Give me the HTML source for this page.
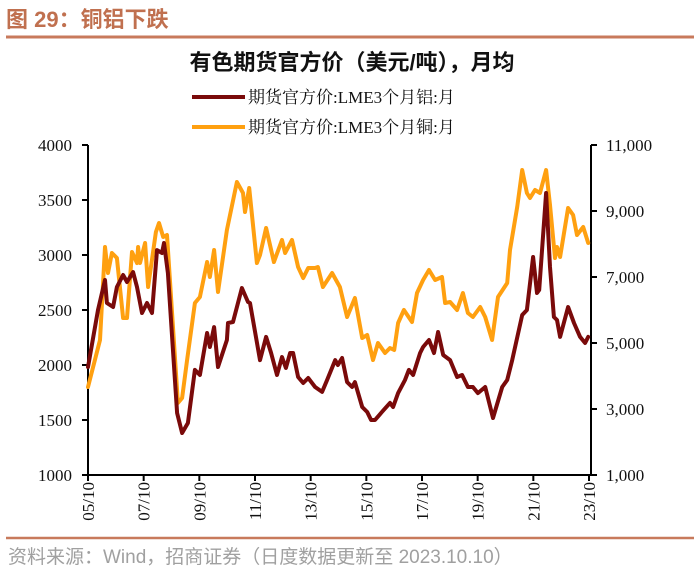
<!DOCTYPE html>
<html><head><meta charset="utf-8">
<style>
body{margin:0;background:#fff;width:700px;height:580px;overflow:hidden;font-family:"Liberation Sans","Noto Sans CJK SC",sans-serif;}
svg{display:block}
</style></head>
<body>
<svg id="chart" width="700" height="580" xmlns="http://www.w3.org/2000/svg">
  <text x="6" y="27" font-size="22" font-weight="bold" fill="#c0704f" font-family="'Liberation Sans','Noto Sans CJK SC',sans-serif">图 29：铜铝下跌</text>
  <line x1="6" y1="37" x2="694" y2="37" stroke="#c87a5c" stroke-width="3"/>
  <text x="352" y="70" text-anchor="middle" font-size="22" font-weight="bold" fill="#111" font-family="'Liberation Sans','Noto Sans CJK SC',sans-serif">有色期货官方价（美元/吨），月均</text>
  <g>
    <g>
      <line x1="192" y1="97" x2="245" y2="97" stroke="#7a0a0a" stroke-width="4"/>
      <text x="248" y="103" font-size="17" fill="#111" font-family="'Liberation Serif','Noto Serif CJK SC',serif">期货官方价:LME3个月铝:月</text>
    </g>
    <g>
      <line x1="192" y1="127" x2="245" y2="127" stroke="#ffa010" stroke-width="4"/>
      <text x="248" y="133" font-size="17" fill="#111" font-family="'Liberation Serif','Noto Serif CJK SC',serif">期货官方价:LME3个月铜:月</text>
    </g>
  </g>
  <g id="axes"></g>
  <g id="series"></g>
  <line x1="6" y1="538" x2="694" y2="538" stroke="#c87a5c" stroke-width="2.5"/>
  <text x="8" y="563" font-size="19" fill="#a0a0a0" font-family="'Liberation Sans','Noto Sans CJK SC',sans-serif">资料来源：Wind，招商证券（日度数据更新至 2023.10.10）</text>
</svg>
<script>
const leftTicks=[1000,1500,2000,2500,3000,3500,4000];
const rightTicks=[1000,3000,5000,7000,9000,11000];
const rightTickLabels=["1,000","3,000","5,000","7,000","9,000","11,000"];
const xTicks=[2005.75,2007.75,2009.75,2011.75,2013.75,2015.75,2017.75,2019.75,2021.75,2023.75];
const xTickLabels=["05/10","07/10","09/10","11/10","13/10","15/10","17/10","19/10","21/10","23/10"];

const alDates=[2005.75,2006.11,2006.36,2006.43,2006.65,2006.79,2007.01,2007.15,2007.37,2007.51,2007.69,2007.87,2008.05,2008.23,2008.41,2008.48,2008.62,2008.95,2009.13,2009.34,2009.59,2009.77,2010.03,2010.13,2010.28,2010.42,2010.74,2010.78,2010.96,2011.28,2011.50,2011.57,2011.93,2012.15,2012.33,2012.54,2012.72,2012.86,2013.01,2013.12,2013.30,2013.48,2013.66,2013.91,2014.16,2014.34,2014.63,2014.73,2014.88,2015.06,2015.24,2015.34,2015.60,2015.78,2015.92,2016.06,2016.31,2016.60,2016.71,2016.89,2017.14,2017.28,2017.43,2017.68,2017.79,2018.00,2018.18,2018.33,2018.51,2018.76,2019.01,2019.19,2019.40,2019.58,2019.76,2020.02,2020.30,2020.63,2020.81,2020.99,2021.35,2021.52,2021.74,2021.88,2021.96,2022.21,2022.35,2022.49,2022.60,2022.71,2023.00,2023.21,2023.43,2023.61,2023.72];
const alValues=[1982,2500,2773,2564,2527,2709,2818,2755,2845,2709,2473,2564,2473,3045,3018,3109,2836,1564,1382,1473,1955,1909,2291,2164,2345,1982,2227,2382,2391,2700,2573,2564,2045,2255,2109,1909,2073,1973,2109,2109,1891,1836,1882,1800,1755,1864,2045,2000,2064,1845,1800,1845,1618,1573,1500,1500,1573,1655,1618,1745,1864,1955,1909,2109,2164,2227,2109,2300,2091,2045,1891,1909,1800,1800,1745,1800,1518,1800,1864,2045,2455,2500,2982,2655,2682,3564,2891,2436,2409,2255,2527,2382,2255,2200,2255];

const cuDates=[2005.75,2006.18,2006.36,2006.47,2006.61,2006.79,2007.01,2007.15,2007.33,2007.51,2007.55,2007.62,2007.80,2007.91,2008.19,2008.30,2008.45,2008.59,2008.98,2009.13,2009.31,2009.59,2009.77,2010.03,2010.13,2010.28,2010.42,2010.74,2011.10,2011.32,2011.39,2011.54,2011.82,2011.93,2012.15,2012.43,2012.72,2012.83,2013.08,2013.30,2013.48,2013.66,2013.91,2014.01,2014.19,2014.52,2014.80,2015.06,2015.34,2015.60,2015.78,2015.99,2016.17,2016.42,2016.60,2016.75,2016.89,2017.10,2017.39,2017.57,2017.79,2018.00,2018.22,2018.47,2018.58,2018.76,2019.01,2019.22,2019.40,2019.58,2019.84,2020.02,2020.27,2020.48,2020.81,2020.91,2021.17,2021.35,2021.52,2021.63,2021.81,2021.99,2022.21,2022.35,2022.53,2022.60,2022.71,2023.00,2023.18,2023.32,2023.54,2023.72];
const cuValues=[3667,5090,7909,7121,7727,7576,5757,5757,7757,7424,7909,7424,8030,6697,8364,8636,8212,8272,3182,3333,4485,6212,6394,7454,7000,7818,6545,8424,9879,9545,8970,9697,7424,7667,8485,7454,8121,7727,8121,7303,6970,7273,7273,7303,6697,7121,6697,5788,6364,5151,5242,4485,5000,4697,4848,4788,5606,6000,5636,6515,6909,7212,6909,7000,6212,6242,6000,6515,5909,5788,6091,5788,5091,6394,6818,7818,9121,10242,9545,9394,9636,9545,10242,9182,7576,7909,7606,9091,8879,8273,8515,8030];

const X0=88,X1=589,YT=145,YB=475;
const xS=t=>X0+(t-2005.75)/(2023.75-2005.75)*(X1-X0);
const yL=v=>YB-(v-1000)/3000*(YB-YT);
const yR=v=>YB-(v-1000)/10000*(YB-YT);
const NS="http://www.w3.org/2000/svg";
function mk(tag,attrs,parent){const e=document.createElementNS(NS,tag);for(const k in attrs)e.setAttribute(k,attrs[k]);parent.appendChild(e);return e;}
const axes=document.getElementById('axes'),series=document.getElementById('series');
const serif="'Liberation Serif','Noto Serif CJK SC',serif";

const la=mk('line',{x1:X0,y1:YT,x2:X0,y2:YB,stroke:'#000','stroke-width':2},axes);


const ra=mk('line',{x1:591,y1:YT,x2:591,y2:YB,stroke:'#000','stroke-width':2},axes);


const xa=mk('line',{x1:82,y1:YB,x2:597,y2:YB,stroke:'#000','stroke-width':2},axes);



leftTicks.forEach(v=>{
  const y=yL(v);
  mk('line',{x1:82,y1:y,x2:X0,y2:y,stroke:'#000','stroke-width':2},axes);
  const t=mk('text',{x:72,y:y+6,'text-anchor':'end','font-size':17,'font-family':serif,fill:'#111'},axes);
  t.textContent=v;
  
  
});
rightTicks.forEach((v,i)=>{
  const y=yR(v);
  mk('line',{x1:591,y1:y,x2:597,y2:y,stroke:'#000','stroke-width':2},axes);
  const t=mk('text',{x:606,y:y+6,'font-size':17,'font-family':serif,fill:'#111'},axes);
  t.textContent=rightTickLabels[i];
  
  
});
xTicks.forEach((d,i)=>{
  const x=xS(d);
  mk('line',{x1:x,y1:YB,x2:x,y2:YB+6,stroke:'#000','stroke-width':2},axes);
  const t=mk('text',{x:0,y:0,'text-anchor':'end','font-size':17,'font-family':serif,fill:'#111',transform:`translate(${x+6},${YB+7}) rotate(-90)`},axes);
  t.textContent=xTickLabels[i];
  
  
});

function line(dates,vals,ys,color,name){
  const pts=dates.map((d,i)=>xS(d).toFixed(1)+','+ys(vals[i]).toFixed(1)).join(' ');
  const p=mk('polyline',{points:pts,fill:'none',stroke:color,'stroke-width':4,'stroke-linejoin':'round','stroke-linecap':'round'},series);
  
  
}
line(cuDates,cuValues,yR,'#ffa010','copper-line');
line(alDates,alValues,yL,'#7a0a0a','aluminum-line');
</script>
</body></html>
